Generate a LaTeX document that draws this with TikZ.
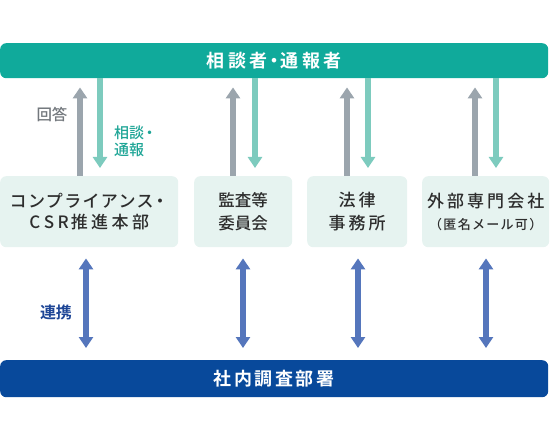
\documentclass[tikz,border=0pt]{standalone}
\usepackage{fontspec}
\setmainfont{Noto Sans CJK JP}
\newfontfamily\jpA[LetterSpace=8]{Noto Sans CJK JP Medium}
\newfontfamily\jpB[LetterSpace=0]{Noto Sans CJK JP Medium}
\newfontfamily\jpC[LetterSpace=18]{Noto Sans CJK JP Medium}
\newfontfamily\jpE[LetterSpace=20]{Noto Sans CJK JP Medium}
\newfontfamily\jpD[LetterSpace=10]{Noto Sans CJK JP Medium}
\newfontfamily\jpbold[LetterSpace=20]{Noto Sans CJK JP Bold}
\newfontfamily\jpboldb[LetterSpace=14]{Noto Sans CJK JP Bold}
\newfontfamily\jpsemi{Noto Sans CJK JP Medium}
\newfontfamily\jplink{Noto Sans CJK JP Bold}
\newcommand{\tightdot}[1]{\hspace{-#1}・\hspace{-#1}}
\usetikzlibrary{arrows.meta}
\definecolor{barteal}{RGB}{16,170,155}
\definecolor{boxfill}{RGB}{230,243,240}
\definecolor{upgray}{RGB}{155,165,173}
\definecolor{downteal}{RGB}{125,203,190}
\definecolor{linkblue}{RGB}{85,118,188}
\definecolor{barblue}{RGB}{8,73,155}
\definecolor{txt}{RGB}{45,45,45}
\definecolor{lblgray}{RGB}{115,120,125}
\definecolor{lblteal}{RGB}{30,165,150}
\definecolor{lblblue}{RGB}{30,70,150}
\tikzset{
  bar/.style={rounded corners=6pt, inner sep=0pt, anchor=north west, text=white},
  orgbox/.style={fill=boxfill, rounded corners=6pt, inner sep=0pt, anchor=north west, text=txt, align=center, minimum height=71pt},
  uparrow/.style={draw=upgray, line width=6.5pt, -{Triangle[width=14pt,length=11pt]}, shorten >=9pt},
  downarrow/.style={draw=downteal, line width=6.5pt, -{Triangle[width=14pt,length=11pt]}, shorten >=8pt},
  linkarrow/.style={draw=linkblue, line width=6.5pt, {Triangle[width=14pt,length=11pt]}-{Triangle[width=14pt,length=11pt]}, shorten <=11pt, shorten >=12pt},
  lbl/.style={inner sep=0pt, font=\jpsemi\fontsize{15}{17}\selectfont}
}
\begin{document}
\begin{tikzpicture}[x=1pt,y=-1pt]
\useasboundingbox (0,0) rectangle (550,436);
% bars
\node[bar, fill=barteal, minimum width=548pt, minimum height=35pt, font=\jpbold\fontsize{18}{20}\selectfont] (top) at (0,43) {相談者\tightdot{2.5pt}通報者};
\node[bar, fill=barblue, minimum width=548pt, minimum height=37pt, font=\jpboldb\fontsize{18}{20}\selectfont] (bottom) at (0,360) {社内調査部署};
% boxes
\node[orgbox, minimum width=178pt, font=\jpA\fontsize{17}{21.5}\selectfont] (b1) at (0,176) {コンプライアンス\hspace{-2pt}・\hspace{-4pt}\\C\hspace{3.5pt}S\hspace{3.5pt}R\hspace{2pt}{\jpE 推進本部}};
\node[orgbox, minimum width=98pt, font=\jpB\fontsize{16.5}{22.5}\selectfont] (b2) at (194,176) {監査等\\委員会};
\node[orgbox, minimum width=100pt, font=\jpC\fontsize{17}{22.5}\selectfont] (b3) at (307,176) {法律\\事務所};
\node[orgbox, minimum width=127pt, font=\jpC\fontsize{17}{22}\selectfont] (b4) at (422,176) {外部専門会社\\{\jpD\fontsize{13}{22}\selectfont （匿名メール可）}};
% up / down arrows
\draw[uparrow] (b1.north -| 80,0) -- (top.south -| 80,0);
\draw[downarrow] (top.south -| 100,0) -- (b1.north -| 100,0);
\draw[uparrow] (b2.north -| 233,0) -- (top.south -| 233,0);
\draw[downarrow] (top.south -| 255,0) -- (b2.north -| 255,0);
\draw[uparrow] (b3.north -| 347,0) -- (top.south -| 347,0);
\draw[downarrow] (top.south -| 368,0) -- (b3.north -| 368,0);
\draw[uparrow] (b4.north -| 475,0) -- (top.south -| 475,0);
\draw[downarrow] (top.south -| 496,0) -- (b4.north -| 496,0);
% link arrows
\draw[linkarrow] (b1.south -| 86,0) -- (bottom.north -| 86,0);
\draw[linkarrow] (b2.south -| 243,0) -- (bottom.north -| 243,0);
\draw[linkarrow] (b3.south -| 358,0) -- (bottom.north -| 358,0);
\draw[linkarrow] (b4.south -| 486,0) -- (bottom.north -| 486,0);
% labels
\node[lbl, text=lblgray, font=\jpsemi\fontsize{15.5}{17}\selectfont] (lanswer) at (52,115) {回答};
\node[lbl, text=lblteal, align=left, anchor=west] (lconsult) at (114,141.5) {相談\hspace{-2pt}・\\通報};
\node[lbl, text=lblblue, font=\jplink\fontsize{16}{17}\selectfont] (llink) at (56,312) {連携};
\end{tikzpicture}
\end{document}
